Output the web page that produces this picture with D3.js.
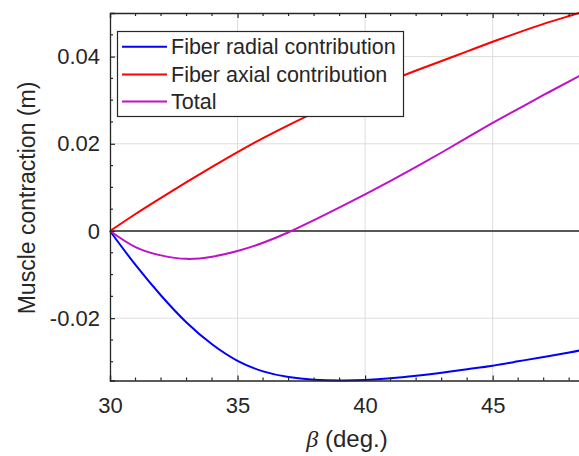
<!DOCTYPE html>
<html>
<head>
<meta charset="utf-8">
<script src="https://cdn.jsdelivr.net/npm/d3@7"></script>
<style>
  body { margin: 0; background: #fff; }
  text { font-family: "Liberation Sans", Arial, sans-serif; fill: #262626; }
</style>
</head>
<body>
<div id="chart"></div>
<script>
// beta (deg.) sample points
const beta = [30, 31, 32, 33, 34, 35, 36, 37, 38, 39, 40, 41, 42, 43, 44, 45, 46, 47, 48, 48.5];
// values (m)
const radial = [0, -0.0078, -0.0148, -0.0210, -0.0260, -0.0298, -0.0322, -0.0335, -0.0341, -0.0343, -0.0342, -0.0338, -0.0332, -0.0325, -0.0317, -0.0309, -0.0299, -0.0289, -0.0279, -0.0273];
const axial = [0, 0.0039, 0.0076, 0.0112, 0.0147, 0.0181, 0.0213, 0.0243, 0.0271, 0.0297, 0.0322, 0.0345, 0.0368, 0.0390, 0.0412, 0.0434, 0.0455, 0.0475, 0.0493, 0.0502];
const total = [0, -0.0037, -0.0056, -0.0064, -0.0059, -0.0046, -0.0027, -0.0003, 0.0025, 0.0054, 0.0084, 0.0115, 0.0147, 0.0180, 0.0214, 0.0248, 0.0280, 0.0312, 0.0343, 0.0359];

const seriesNames = ["Fiber radial contribution", "Fiber axial contribution", "Total"];
const seriesColors = ["#0000ff", "#ff0000", "#c010c8"];
const seriesValues = [radial, axial, total];

const xTicks = [30, 35, 40, 45];
const yTicks = [-0.02, 0, 0.02, 0.04];

const W = 579, H = 456;
const margin = { left: 110, top: 13 };
const plotBottom = 380.5;

const x = d3.scaleLinear().domain([30, 48.5]).range([margin.left, margin.left + 18.5 * 25.51]);
const y = d3.scaleLinear().domain([-0.0343, 0.05]).range([plotBottom, margin.top]);

const svg = d3.select("#chart").append("svg")
    .attr("width", W)
    .attr("height", H);

const x0 = x.range()[0], x1 = x.range()[1];

// grid lines
svg.append("g")
    .selectAll("line")
    .data(xTicks.slice(1))
    .enter().append("line")
    .attr("x1", d => x(d)).attr("x2", d => x(d))
    .attr("y1", margin.top).attr("y2", plotBottom)
    .attr("stroke", "#dedede").attr("stroke-width", 1);

svg.append("g")
    .selectAll("line")
    .data(yTicks)
    .enter().append("line")
    .attr("x1", x0).attr("x2", x1)
    .attr("y1", d => y(d)).attr("y2", d => y(d))
    .attr("stroke", "#dedede").attr("stroke-width", 1);

// zero line
svg.append("line")
    .attr("x1", x0).attr("x2", x1)
    .attr("y1", y(0)).attr("y2", y(0))
    .attr("stroke", "#262626").attr("stroke-width", 1.6);

// curves
const line = d3.line()
    .x((d, i) => x(beta[i]))
    .y(d => y(d))
    .curve(d3.curveNatural);

svg.append("g")
    .selectAll("path")
    .data(seriesValues)
    .enter().append("path")
    .attr("d", d => line(d))
    .attr("fill", "none")
    .attr("stroke", (d, i) => seriesColors[i])
    .attr("stroke-width", 2);

// axes with inward ticks (box style)
const minorX = d3.range(31, 49, 1).filter(v => v % 5 !== 0);
const minorY = d3.range(-0.03, 0.05, 0.005).filter(v => Math.abs(Math.round(v * 1000) % 20) > 1e-6 && Math.abs(v) > 1e-9);

const axisColor = "#262626";
const tickFont = "22px";

// bottom axis
const bottomAxis = d3.axisBottom(x).tickValues(xTicks).tickSize(-5).tickPadding(17).tickFormat(d3.format("d"));
const gb = svg.append("g").attr("transform", `translate(0,${plotBottom})`).call(bottomAxis);
// top axis
const topAxis = d3.axisTop(x).tickValues(xTicks).tickSize(-5).tickFormat("");
const gt = svg.append("g").attr("transform", `translate(0,${margin.top})`).call(topAxis);
// left axis
const leftAxis = d3.axisLeft(y).tickValues(yTicks).tickSize(-5).tickPadding(10)
    .tickFormat(d => d === 0 ? "0" : (d < 0 ? "-" : "") + d3.format(".2f")(Math.abs(d)));
const gl = svg.append("g").attr("transform", `translate(${x0},0)`).call(leftAxis);

[gb, gt, gl].forEach(g => {
    g.select(".domain").attr("stroke", axisColor).attr("stroke-width", 1.3);
    g.selectAll(".tick line").attr("stroke", axisColor).attr("stroke-width", 1.2);
    g.selectAll(".tick text").style("font-size", tickFont).attr("fill", axisColor)
        .style("font-family", "'Liberation Sans', Arial, sans-serif");
});

// minor ticks
svg.append("g").selectAll("line")
    .data(minorX)
    .enter().append("line")
    .attr("x1", d => x(d)).attr("x2", d => x(d))
    .attr("y1", plotBottom).attr("y2", plotBottom - 3)
    .attr("stroke", axisColor).attr("stroke-width", 1.2);
svg.append("g").selectAll("line")
    .data(minorX)
    .enter().append("line")
    .attr("x1", d => x(d)).attr("x2", d => x(d))
    .attr("y1", margin.top).attr("y2", margin.top + 3)
    .attr("stroke", axisColor).attr("stroke-width", 1.2);
svg.append("g").selectAll("line")
    .data(minorY)
    .enter().append("line")
    .attr("x1", x0).attr("x2", x0 + 3)
    .attr("y1", d => y(d)).attr("y2", d => y(d))
    .attr("stroke", axisColor).attr("stroke-width", 1.2);

// axis labels
const xl = svg.append("text")
    .attr("x", 347).attr("y", 447)
    .attr("text-anchor", "middle")
    .style("font-size", "24px");
xl.append("tspan").style("font-style", "italic").style("font-family", "'Liberation Serif', 'Times New Roman', serif").text("β");
xl.append("tspan").text(" (deg.)");

svg.append("text")
    .attr("transform", `translate(35,198) rotate(-90)`)
    .attr("text-anchor", "middle")
    .style("font-size", "23px")
    .text("Muscle contraction (m)");

// legend
const legend = svg.append("g");
legend.append("rect")
    .attr("x", 117.5).attr("y", 31.5)
    .attr("width", 286).attr("height", 85)
    .attr("fill", "#fff")
    .attr("stroke", axisColor).attr("stroke-width", 1.2);

const rowY = [46.7, 74.5, 101.5];
seriesNames.forEach((name, i) => {
    legend.append("line")
        .attr("x1", 122).attr("x2", 167)
        .attr("y1", rowY[i]).attr("y2", rowY[i])
        .attr("stroke", seriesColors[i]).attr("stroke-width", 2);
    legend.append("text")
        .attr("x", 171).attr("y", rowY[i])
        .attr("dy", "0.35em")
        .style("font-size", "21.5px")
        .attr("fill", "#000")
        .text(name);
});
</script>
</body>
</html>
